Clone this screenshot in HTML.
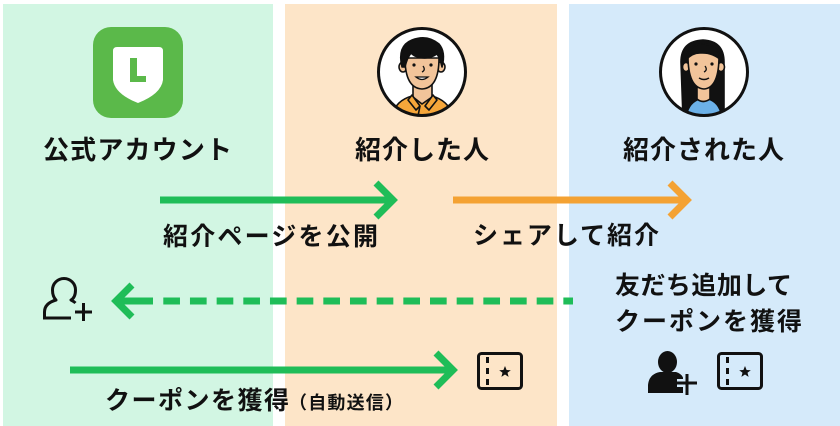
<!DOCTYPE html>
<html><head><meta charset="utf-8">
<style>
html,body{margin:0;padding:0;background:#fff;}
svg{display:block;}
text{font-family:"Liberation Sans","Noto Sans CJK JP",sans-serif;font-weight:700;fill:#111;}
</style></head>
<body>
<svg width="840" height="426" viewBox="0 0 840 426" xmlns="http://www.w3.org/2000/svg">
<defs>
<clipPath id="c1"><circle cx="422" cy="72" r="43"/></clipPath>
<clipPath id="c2"><circle cx="704" cy="72" r="43"/></clipPath>
</defs>
<rect x="0" y="0" width="840" height="426" fill="#fff"/>
<rect x="3" y="4" width="270" height="422" fill="#d2f6e3"/>
<rect x="285" y="4" width="272" height="422" fill="#fde5c8"/>
<rect x="569" y="4" width="271" height="422" fill="#d5eafa"/>

<!-- LINE icon -->
<rect x="93" y="27" width="90" height="91" rx="18" fill="#5bb94a"/>
<path d="M117,47 H159 Q163,47 163,51 V80 Q161,94 138,103 Q115,94 113,80 V51 Q113,47 117,47 Z" fill="#fff"/>
<path d="M130,58 H137 V76 H146 V82 H130 Z" fill="#5bb94a"/>

<!-- Man avatar -->
<circle cx="422" cy="72" r="43" fill="#fff"/>
<g clip-path="url(#c1)" stroke="#111" stroke-width="1.6" stroke-linejoin="round">
  <path d="M392,118 Q394,101 412,96 L432,96 Q450,101 453,118 Z" fill="#f6a63a"/>
  <path d="M413,84 V97 L422,104 L432,97 V84 Z" fill="#f2c49a"/>
  <path d="M412,95 L420,106 L416,110 L408,100 Z M433,95 L425,106 L429,110 L437,100 Z" fill="#f6a63a"/>
  <path d="M420,106 L418,116" fill="none"/>
  <ellipse cx="403" cy="67" rx="4" ry="5" fill="#f2c49a"/>
  <ellipse cx="441" cy="67" rx="4" ry="5" fill="#f2c49a"/>
  <path d="M405,58 Q405,88 422,89 Q439,88 439,58 Z" fill="#f2c49a"/>
  <path d="M402,67 Q397,46 412,40 Q427,34 439,44 Q446,52 442,67 Q440,58 437,54 Q428,60 418,57 Q414,56 411,53 Q407,58 405,67 Z" fill="#111"/>
</g>
<g fill="#111">
  <circle cx="414" cy="65" r="1.6"/><circle cx="431" cy="65" r="1.6"/>
</g>
<path d="M423,66 Q426,70 422,72" fill="none" stroke="#111" stroke-width="1.3"/>
<path d="M416,77 Q422,82 428,77 Z" fill="#fff" stroke="#111" stroke-width="1.3"/>
<circle cx="422" cy="72" r="43.5" fill="none" stroke="#111" stroke-width="3"/>

<!-- Woman avatar -->
<circle cx="704" cy="72" r="43" fill="#fff"/>
<g clip-path="url(#c2)" stroke="#111" stroke-width="1.6" stroke-linejoin="round">
  <path d="M683,118 L681,62 Q681,41 703,40 Q724,41 724,62 L724,118 Z" fill="#111"/>
  <path d="M686,118 Q688,102 700,99 L708,99 Q720,102 722,118 Z" fill="#6cb1e8"/>
  <path d="M697,84 V99 Q703,104 710,99 V84 Z" fill="#f2c49a"/>
  <ellipse cx="686" cy="67" rx="3.5" ry="4.5" fill="#f2c49a"/>
  <ellipse cx="721" cy="67" rx="3.5" ry="4.5" fill="#f2c49a"/>
  <path d="M688,56 Q688,88 704,89 Q719,88 719,56 Q712,50 704,50 Q694,50 688,56 Z" fill="#f2c49a"/>
  <path d="M686,60 Q688,44 704,44 Q718,45 721,60 Q712,52 700,53 Q692,53 686,60 Z" fill="#111"/>
</g>
<g fill="#111">
  <circle cx="696" cy="64" r="1.6"/><circle cx="712" cy="64" r="1.6"/>
</g>
<path d="M705,66 Q708,70 704,72" fill="none" stroke="#111" stroke-width="1.3"/>
<path d="M699,78 Q704,81 709,78" fill="none" stroke="#111" stroke-width="1.4"/>
<circle cx="704" cy="72" r="43.5" fill="none" stroke="#111" stroke-width="3"/>

<!-- Titles -->
<text x="43" y="150" dominant-baseline="central" font-size="26" textLength="189" lengthAdjust="spacing">公式アカウント</text>
<text x="355" y="150" dominant-baseline="central" font-size="26" textLength="134" lengthAdjust="spacing">紹介した人</text>
<text x="623" y="150" dominant-baseline="central" font-size="26" textLength="161" lengthAdjust="spacing">紹介された人</text>

<!-- Arrows -->
<g fill="none" stroke-width="7" stroke-linecap="butt" stroke-linejoin="miter">
  <path d="M160,200 H389" stroke="#1fbd58"/>
  <path d="M376,183 L393,200 L376,217" stroke="#1fbd58"/>
  <path d="M453,200 H684" stroke="#f4a233"/>
  <path d="M670,183 L687,200 L670,217" stroke="#f4a233"/>
  <path d="M119,301 H153" stroke="#1fbd58"/>
  <path d="M163.3,301 H573" stroke="#1fbd58" stroke-dasharray="16.67 10"/>
  <path d="M132,285 L116,301 L132,317" stroke="#1fbd58"/>
  <path d="M70,370 H449" stroke="#1fbd58"/>
  <path d="M436,353 L453,370 L436,387" stroke="#1fbd58"/>
</g>

<!-- Labels -->
<text x="163" y="237" dominant-baseline="central" font-size="25" textLength="215" lengthAdjust="spacing">紹介ページを公開</text>
<text x="473" y="236" dominant-baseline="central" font-size="25" textLength="186" lengthAdjust="spacing">シェアして紹介</text>
<text x="615" y="286" dominant-baseline="central" font-size="25" textLength="177" lengthAdjust="spacing">友だち追加して</text>
<text x="615" y="322" dominant-baseline="central" font-size="25" textLength="187" lengthAdjust="spacing">クーポンを獲得</text>
<text x="105" y="401" dominant-baseline="central" font-size="25" textLength="184" lengthAdjust="spacing">クーポンを獲得</text>
<text x="289" y="403" dominant-baseline="central" font-size="18" textLength="114" lengthAdjust="spacing">（自動送信）</text>

<!-- Left outline add-user icon -->
<g fill="none" stroke="#111" stroke-width="3" stroke-linejoin="round">
  <path d="M44.5,318 V312 C44.5,306 49,302 56,300 C53,297 52.5,293 52.5,290 A11.5,11.5 0 1 1 75.5,290 C75.5,294 74.5,298 71,300 C73,301 74.5,302 75.5,303"/>
  <path d="M43,318 H71"/>
  <path d="M75,312 H92 M83.5,303 V321"/>
</g>

<!-- Middle ticket icon -->
<g>
  <rect x="478.5" y="353.5" width="43" height="35" rx="3" fill="none" stroke="#111" stroke-width="3"/>
  <path d="M487.5,357 V363 M487.5,368 V374 M487.5,379 V385" stroke="#111" stroke-width="3"/>
  <path d="M505,366 L506.6,370 L510.8,370.2 L507.5,372.8 L508.6,376.9 L505,374.5 L501.4,376.9 L502.5,372.8 L499.2,370.2 L503.4,370 Z" fill="#111"/>
</g>

<!-- Right filled add-user icon -->
<g>
  <ellipse cx="667.5" cy="362" rx="9.5" ry="11" fill="#111"/>
  <path d="M648,393 V385 Q649,374 660,372 L676,372 Q683,374 684,381 V393 Z" fill="#111"/>
  <path d="M677,383 H697 M687,373 V395" stroke="#d5eafa" stroke-width="8"/>
  <path d="M677,383 H697 M687,374 V395" stroke="#111" stroke-width="3"/>
</g>

<!-- Right ticket icon -->
<g>
  <rect x="718.5" y="353.5" width="43" height="35" rx="3" fill="none" stroke="#111" stroke-width="3"/>
  <path d="M727.5,357 V363 M727.5,368 V374 M727.5,379 V385" stroke="#111" stroke-width="3"/>
  <path d="M745,366 L746.6,370 L750.8,370.2 L747.5,372.8 L748.6,376.9 L745,374.5 L741.4,376.9 L742.5,372.8 L739.2,370.2 L743.4,370 Z" fill="#111"/>
</g>
</svg>
</body></html>
